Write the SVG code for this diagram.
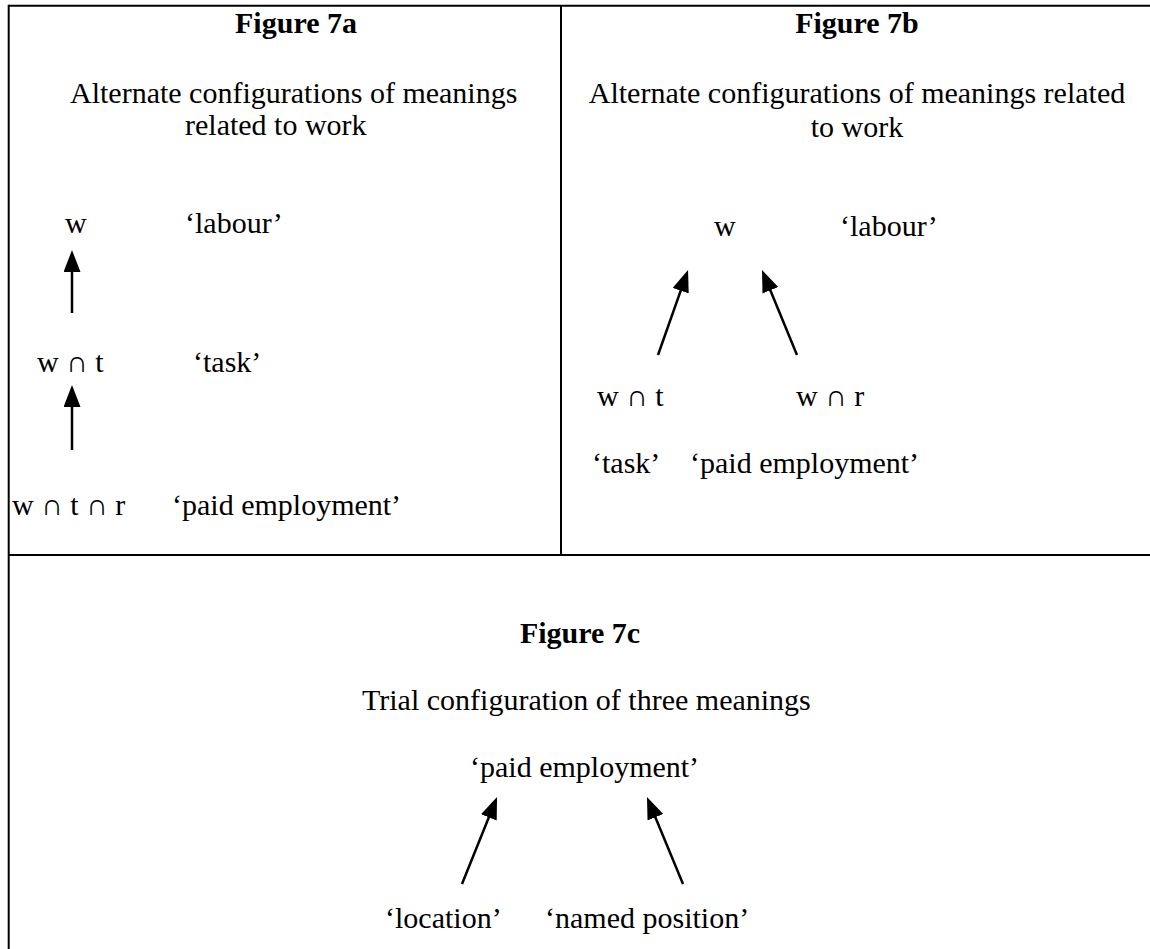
<svg xmlns="http://www.w3.org/2000/svg" width="1150" height="949" viewBox="0 0 1150 949">
  <style>
    text { font-family: "Liberation Serif", "Times New Roman", serif; font-size: 30px; fill: #000; }
    .title { font-weight: bold; }
    .mid { text-anchor: middle; }
    .frame { stroke: #000; stroke-width: 2; fill: none; }
    .arrow { stroke: #000; stroke-width: 2.5; fill: none; marker-end: url(#head); }
  </style>
  <defs>
    <marker id="head" markerUnits="userSpaceOnUse" markerWidth="24" markerHeight="18" refX="12" refY="8.5" orient="auto">
      <path d="M0,0 L22,8.5 L0,17 z" fill="#000"/>
    </marker>
  </defs>
  <rect width="1150" height="949" fill="#fff"/>

  <g id="table">
    <line class="frame" x1="8.7" y1="5.7" x2="1150" y2="5.7"/>
    <line class="frame" x1="8.7" y1="4.7" x2="8.7" y2="949"/>
    <line class="frame" x1="561" y1="5.7" x2="561" y2="555"/>
    <line class="frame" x1="8.7" y1="555" x2="1150" y2="555"/>
  </g>

  <g id="fig7a">
    <text class="title mid" x="296" y="33">Figure 7a</text>
    <text x="70" y="103">Alternate configurations of meanings</text>
    <text x="185" y="135">related to work</text>
    <g id="a-w"><text x="65" y="233">w</text><text x="185" y="233">‘labour’</text></g>
    <g id="a-wt"><text x="37" y="372">w ∩ t</text><text x="193" y="372">‘task’</text></g>
    <g id="a-wtr"><text x="12" y="515">w ∩ t ∩  r</text><text x="172" y="515">‘paid employment’</text></g>
  </g>

  <g id="fig7b">
    <text class="title mid" x="857" y="33">Figure 7b</text>
    <text class="mid" x="857" y="103">Alternate configurations of meanings related</text>
    <text class="mid" x="857" y="137">to work</text>
    <g id="b-w"><text x="714" y="236">w</text><text x="840" y="236">‘labour’</text></g>
    <g id="b-wt"><text x="597" y="406">w ∩ t</text></g>
    <g id="b-wr"><text x="796" y="406">w ∩ r</text></g>
    <g id="b-labels"><text x="592" y="473">‘task’</text><text x="690" y="473">‘paid employment’</text></g>
  </g>

  <g id="fig7c">
    <text class="title mid" x="580" y="643">Figure 7c</text>
    <text x="362" y="710">Trial configuration of three meanings</text>
    <g id="c-paid"><text x="470" y="777">‘paid employment’</text></g>
    <g id="c-loc"><text x="385" y="928">‘location’</text></g>
    <g id="c-named"><text x="545" y="928">‘named position’</text></g>
  </g>

  <g id="connectors">
    <line class="arrow" x1="72" y1="313" x2="72" y2="260"/>
    <line class="arrow" x1="72" y1="450" x2="72" y2="395"/>
    <line class="arrow" x1="658" y1="355" x2="684.7" y2="279.4"/>
    <line class="arrow" x1="797" y1="355" x2="765.8" y2="279.2"/>
    <line class="arrow" x1="462" y1="884" x2="493.3" y2="806.3"/>
    <line class="arrow" x1="683" y1="884" x2="650.8" y2="806.2"/>
  </g>
</svg>
